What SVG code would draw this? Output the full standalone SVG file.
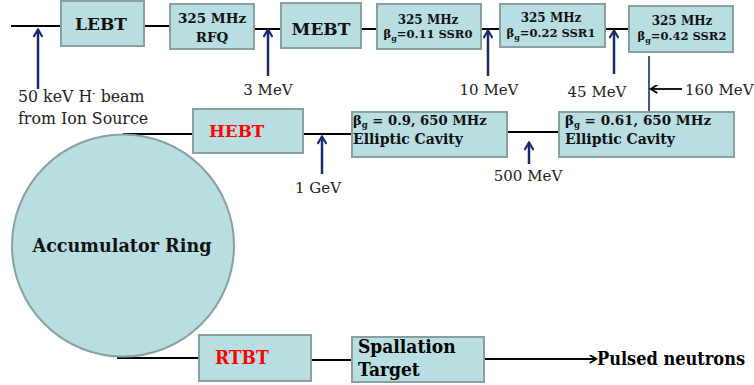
<svg xmlns="http://www.w3.org/2000/svg" width="754" height="385" viewBox="0 0 754 385">
<style>
.box{fill:#b8dee1;stroke:#8a9fa0;stroke-width:2}
.ring{fill:#b8dee1;stroke:#8a9fa0;stroke-width:2}
.bl{stroke:#000;stroke-width:2.2;fill:none}
.nv{stroke:#1a2a6c;stroke-width:2.5;fill:none}
.nvt{stroke:#1a2a6c;stroke-width:1.6;fill:none}
.b{font-family:"DejaVu Serif","Liberation Serif",serif;font-weight:bold;fill:#111}
.r{font-family:"DejaVu Serif","Liberation Serif",serif;fill:#222;font-size:15px}
.c{font-family:"DejaVu Serif Condensed","DejaVu Serif",serif;font-weight:bold;font-stretch:condensed}
.red{fill:#ff0000}
</style>
<defs>
<marker id="ahn" viewBox="0 0 10 10" refX="8" refY="5" markerWidth="10" markerHeight="10" markerUnits="userSpaceOnUse" orient="auto">
<path d="M1,0.5 L8.5,5 L1,9.5" fill="none" stroke="#1a2a6c" stroke-width="2.2"/>
</marker>
<marker id="ahb" viewBox="0 0 10 10" refX="8" refY="5" markerWidth="9" markerHeight="9" markerUnits="userSpaceOnUse" orient="auto">
<path d="M1,0.5 L8.5,5 L1,9.5" fill="none" stroke="#000" stroke-width="2"/>
</marker>
</defs>

<g id="connectors">
<path class="bl" d="M11,26 H61 M144,26 H170 M254,29 H281 M361,29 H377 M481,29 H500 M605,29 H629"/>
<path class="bl" d="M123,134 H193 M303,134 H352 M507,132 H559"/>
<path class="bl" d="M117,358 H199 M311,360 H352"/>
<path class="bl" d="M484,359 H596" marker-end="url(#ahb)"/>
<path class="nvt" d="M649,56 V112"/>
<path class="bl" d="M682,89 H651" style="stroke-width:1.8" marker-end="url(#ahb)"/>
<path class="nv" d="M38,89 V30" marker-end="url(#ahn)"/>
<path class="nv" d="M268,76 V30" marker-end="url(#ahn)"/>
<path class="nv" d="M488,76 V31" marker-end="url(#ahn)"/>
<path class="nv" d="M614,74 V31" marker-end="url(#ahn)"/>
<path class="nv" d="M322,174 V137" marker-end="url(#ahn)"/>
<path class="nv" d="M529,164 V143" marker-end="url(#ahn)"/>
</g>

<g id="labels">
<text class="r" x="18" y="102" style="font-size:15.8px">50 keV H<tspan dy="-6" font-size="10">-</tspan><tspan dy="6"> beam</tspan></text>
<text class="r" x="18" y="124" style="font-size:15.8px">from Ion Source</text>
<text class="r" x="268" y="95" text-anchor="middle">3 MeV</text>
<text class="r" x="489" y="95" text-anchor="middle">10 MeV</text>
<text class="r" x="597" y="97" text-anchor="middle">45 MeV</text>
<text class="r" x="685" y="95">160 MeV</text>
<text class="r" x="318" y="193" text-anchor="middle">1 GeV</text>
<text class="r" x="528" y="181" text-anchor="middle">500 MeV</text>
</g>

<g id="lebt">
<rect class="box" x="61" y="1" width="83" height="45"/>
<text class="b" x="101" y="30" font-size="17" text-anchor="middle">LEBT</text>
</g>
<g id="rfq">
<rect class="box" x="170" y="4" width="84" height="45"/>
<text class="b" x="212" y="23" font-size="13.5" text-anchor="middle">325 MHz</text>
<text class="b" x="212" y="42" font-size="13.5" text-anchor="middle">RFQ</text>
</g>
<g id="mebt">
<rect class="box" x="281" y="3" width="80" height="45"/>
<text class="b" x="321" y="35" font-size="17" text-anchor="middle">MEBT</text>
</g>
<g id="ssr0">
<rect class="box" x="377" y="4" width="104" height="45"/>
<text class="b" x="428" y="24" font-size="12" text-anchor="middle">325 MHz</text>
<text class="b" x="428" y="38" font-size="11.5" text-anchor="middle">β<tspan dy="3" font-size="8">g</tspan><tspan dy="-3">=0.11 SSR0</tspan></text>
</g>
<g id="ssr1">
<rect class="box" x="500" y="4" width="105" height="43"/>
<text class="b" x="551" y="22" font-size="12" text-anchor="middle">325 MHz</text>
<text class="b" x="551" y="37" font-size="11.5" text-anchor="middle">β<tspan dy="3" font-size="8">g</tspan><tspan dy="-3">=0.22 SSR1</tspan></text>
</g>
<g id="ssr2">
<rect class="box" x="629" y="6" width="104" height="46"/>
<text class="b" x="682" y="25" font-size="12" text-anchor="middle">325 MHz</text>
<text class="b" x="682" y="40" font-size="11.5" text-anchor="middle">β<tspan dy="3" font-size="8">g</tspan><tspan dy="-3">=0.42 SSR2</tspan></text>
</g>
<g id="hebt">
<rect class="box" x="193" y="109" width="110" height="44"/>
<text class="b red" x="209" y="137" font-size="16.8">HEBT</text>
</g>
<g id="elliptic09">
<rect class="box" x="352" y="112" width="155" height="45"/>
<text class="b" x="353" y="125" font-size="13.2">β<tspan dy="3" font-size="8.5">g</tspan><tspan dy="-3"> = 0.9, 650 MHz</tspan></text>
<text class="b" x="353" y="144" font-size="14">Elliptic Cavity</text>
</g>
<g id="elliptic061">
<rect class="box" x="559" y="112" width="175" height="45"/>
<text class="b" x="565" y="125" font-size="13.5">β<tspan dy="3" font-size="8.5">g</tspan><tspan dy="-3"> = 0.61, 650 MHz</tspan></text>
<text class="b" x="565" y="144" font-size="14">Elliptic Cavity</text>
</g>
<g id="ring">
<circle class="ring" cx="123" cy="245.5" r="111"/>
<text class="b" x="122" y="252" font-size="17.6" text-anchor="middle">Accumulator Ring</text>
</g>
<g id="rtbt">
<rect class="box" x="199" y="335" width="112" height="46"/>
<text class="c red" x="215" y="364" font-size="19">RTBT</text>
</g>
<g id="spallation">
<rect class="box" x="352" y="337" width="132" height="45"/>
<text class="c" x="358" y="353" font-size="19">Spallation</text>
<text class="c" x="358" y="376" font-size="19">Target</text>
</g>
<g id="neutrons">
<text class="c" x="597" y="365" font-size="18">Pulsed neutrons</text>
</g>
</svg>
